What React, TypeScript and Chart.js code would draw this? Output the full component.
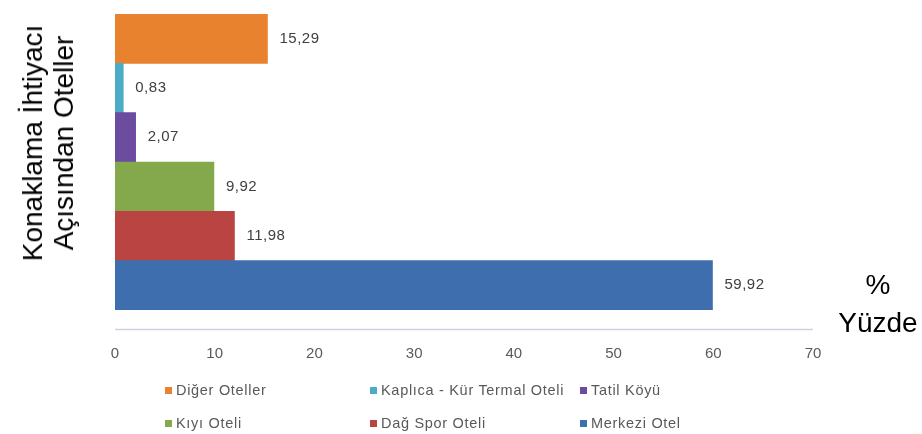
import React, { useEffect, useRef } from "react";
import { Chart, registerables } from "chart.js";

Chart.register(...registerables);

const categories = [
  "Diğer Oteller",
  "Kaplıca - Kür Termal Oteli",
  "Tatil Köyü",
  "Kıyı Oteli",
  "Dağ Spor Oteli",
  "Merkezi Otel",
];
const values = [15.29, 0.83, 2.07, 9.92, 11.98, 59.92];
const colors = ["#E8822F", "#4AACC6", "#6B4C9E", "#84A84C", "#B94442", "#3F6EAF"];
const xTicks = [0, 10, 20, 30, 40, 50, 60, 70];
const yTitle = ["Konaklama İhtiyacı", "Açısından Oteller"];
const unitTitle = ["%", "Yüzde"];
// legend grid: row, column for each category
const legendRow = [0, 0, 0, 1, 1, 1];
const legendCol = [0, 1, 2, 0, 1, 2];

const fmt = (v: number) => v.toFixed(2).replace(".", ",");

const decorPlugin = {
  id: "decor",
  afterDatasetsDraw(chart: any) {
    const { ctx, chartArea } = chart;
    const meta = chart.getDatasetMeta(0);
    ctx.save();
    ctx.font = "15px 'Liberation Sans', Arial, sans-serif";
    try {
      (ctx as any).letterSpacing = "0.5px";
    } catch (e) {}
    ctx.fillStyle = "#404040";
    ctx.textBaseline = "middle";
    ctx.textAlign = "left";
    meta.data.forEach((bar: any, i: number) => {
      ctx.fillText(fmt(values[i]), bar.x + 12, bar.y);
    });
    // axis baseline
    const y = chartArea.bottom + 19.5;
    ctx.strokeStyle = "#D3D0E2";
    ctx.lineWidth = 1.5;
    ctx.beginPath();
    ctx.moveTo(chartArea.left, y);
    ctx.lineTo(chartArea.right, y);
    ctx.stroke();
    ctx.restore();
  },
};

export default function App() {
  const ref = useRef<HTMLCanvasElement | null>(null);

  useEffect(() => {
    if (!ref.current) return;
    const chart = new Chart(ref.current, {
      type: "bar",
      data: {
        labels: categories,
        datasets: [
          {
            data: values,
            backgroundColor: colors,
            borderWidth: 0,
            barPercentage: 1,
            categoryPercentage: 1,
          },
        ],
      },
      options: {
        indexAxis: "y",
        animation: false,
        responsive: false,
        maintainAspectRatio: false,
        layout: { padding: { left: 115, right: 109, top: 14, bottom: 36 } },
        plugins: {
          legend: { display: false },
          tooltip: { enabled: false },
        },
        scales: {
          x: {
            type: "linear",
            min: 0,
            max: 70,
            afterBuildTicks: (axis: any) => {
              axis.ticks = xTicks.map((v) => ({ value: v }));
            },
            grid: { display: false, drawTicks: false },
            border: { display: false },
            ticks: {
              padding: 35,
              color: "#595959",
              font: { family: "'Liberation Sans', Arial, sans-serif", size: 15 },
            },
          },
          y: {
            display: false,
          },
        },
      },
      plugins: [decorPlugin],
    });
    return () => chart.destroy();
  }, []);

  const colX = [165, 370, 580];
  const rowY = [390, 423];

  return (
    <div
      style={{
        position: "fixed",
        left: 0,
        top: 0,
        width: 922,
        height: 434,
        background: "#fff",
        overflow: "hidden",
        fontFamily: "'Liberation Sans', Arial, sans-serif",
      }}
    >
      <canvas ref={ref} width={922} height={434} style={{ position: "absolute", left: 0, top: 0 }} />
      <div
        style={{
          position: "absolute",
          left: 48,
          top: 143,
          transform: "translate(-50%, -50%) rotate(-90deg)",
          fontSize: 28,
          lineHeight: "31px",
          textAlign: "center",
          whiteSpace: "nowrap",
          color: "#000",
        }}
      >
        {yTitle.map((t, i) => (
          <div key={i}>{t}</div>
        ))}
      </div>
      <div
        style={{
          position: "absolute",
          left: 878,
          top: 304,
          transform: "translate(-50%, -50%)",
          fontSize: 28,
          lineHeight: "38px",
          textAlign: "center",
          whiteSpace: "nowrap",
          color: "#000",
        }}
      >
        {unitTitle.map((t, i) => (
          <div key={i}>{t}</div>
        ))}
      </div>
      {categories.map((c, i) => (
        <div
          key={c}
          style={{
            position: "absolute",
            left: colX[legendCol[i]],
            top: rowY[legendRow[i]],
            transform: "translateY(-50%)",
            display: "flex",
            alignItems: "center",
            whiteSpace: "nowrap",
            fontSize: 14.5,
            letterSpacing: "0.7px",
            color: "#595959",
          }}
        >
          <span
            style={{
              display: "inline-block",
              width: 7,
              height: 7,
              background: colors[i],
              marginRight: 4,
            }}
          />
          <span>{c}</span>
        </div>
      ))}
    </div>
  );
}
